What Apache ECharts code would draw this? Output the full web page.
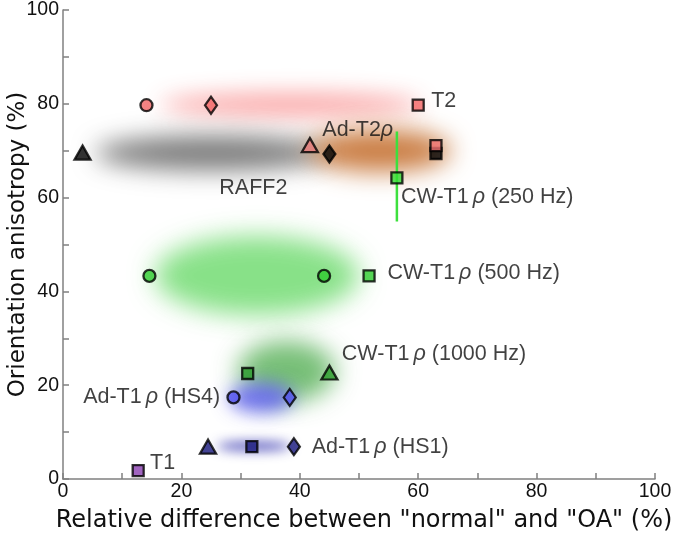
<!DOCTYPE html>
<html>
<head>
<meta charset="utf-8">
<script src="https://cdn.jsdelivr.net/npm/echarts@6/dist/echarts.min.js"></script>
<style>html,body{margin:0;padding:0;background:#fff}#c{width:675px;height:542px}</style>
</head>
<body>
<div id="c"></div>
<script>
// ---------- DATA ----------
// marker points [x, y] per method (x: relative difference %, y: orientation anisotropy %)
const T2_PTS      = [[14.1, 79.7], [25.0, 79.7], [60.0, 79.7]];
const T2_EXTRA    = [[63.0, 71.1]];
const ADT2_PTS    = [[41.7, 71.2]];
const RAFF2_PTS   = [[3.3, 69.6], [45.0, 69.3], [63.0, 69.4]];
const CW250_PTS   = [[56.4, 64.2]];
const CW250_RANGE = [[56.4, 54.9], [56.4, 74.1]];
const CW500_PTS   = [[14.6, 43.3], [44.1, 43.3], [51.7, 43.3]];
const CW1000_PTS  = [[31.2, 22.5], [45.0, 22.7]];
const HS4_PTS     = [[28.8, 17.4], [38.3, 17.4]];
const HS1_PTS     = [[24.5, 6.9], [31.9, 6.9], [39.0, 6.9]];
const T1_PTS      = [[12.7, 1.8]];
// shaded regions [xMin, xMax, yMin, yMax] in data units
const REGIONS = [
  [16.5, 60.5, 77.3, 82.3], // T2 (pink)
  [5.5, 45, 65.8, 73.2],    // RAFF2 (gray)
  [41.5, 65.5, 65.5, 74.5], // Ad-T2rho (orange)
  [15.5, 50, 35.0, 51.8],   // CW 500 Hz (green)
  [29.5, 46, 16.5, 29.5],   // CW 1000 Hz (green)
  [28, 39, 14.2, 20.6],     // HS4 (blue)
  [26, 38.5, 6.0, 8.0]      // HS1 (navy)
];
// annotation labels [x, y, text]
const LABELS = [
  [62.2, 80.5, '{a|T2}'],
  [43.8, 74.4, '{a|Ad-T2}{r|ρ}'],
  [26.4, 62.0, '{a|RAFF2}'],
  [57.1, 60.2, '{a|CW-T1}{s|ρ}{a| (250 Hz)}'],
  [54.8, 44.0, '{a|CW-T1}{s|ρ}{a| (500 Hz)}'],
  [47.1, 26.6, '{a|CW-T1}{s|ρ}{a| (1000 Hz)}'],
  [3.4, 17.5, '{a|Ad-T1}{s|ρ}{a| (HS4)}'],
  [42.0, 6.9, '{a|Ad-T1}{s|ρ}{a| (HS1)}'],
  [14.7, 3.5, '{a|T1}']
];
const X_TICKS = [0, 20, 40, 60, 80, 100];
const Y_TICKS = [0, 20, 40, 60, 80, 100];

// ---------- STYLE ----------
const REGION_COLORS = [
  'rgba(250,160,160,0.9)',
  'rgba(110,110,110,0.9)',
  'rgba(200,120,60,0.95)',
  'rgba(115,220,115,0.85)',
  'rgba(95,180,95,0.85)',
  'rgba(95,95,240,0.85)',
  'rgba(75,75,185,0.9)'
];
const REGION_BLUR = [22, 24, 24, 26, 24, 18, 12];
const SYM = {
  circle: {symbol: 'circle', size: 12},
  diamond: {symbol: 'diamond', size: [12, 17]},
  square: {symbol: 'rect', size: 11},
  triangle: {symbol: 'triangle', size: [16, 14]}
};
function pts(data, shapes, color) {
  return data.map(function (d, i) {
    const s = SYM[shapes[i]];
    return {value: d, symbol: s.symbol, symbolSize: s.size,
      itemStyle: {color: color, borderColor: '#000', borderWidth: 2.3}};
  });
}
function scatter(data, z) {
  return {type: 'scatter', data: data, z: z || 5, silent: true, animation: false};
}

const chart = echarts.init(document.getElementById('c'), null, {renderer: 'canvas'});
const axisCommon = {
  type: 'value', min: 0, max: 100, interval: 10,
  axisLine: {show: true, lineStyle: {color: '#808080', width: 1.5}},
  axisTick: {show: true, inside: true, length: 6, lineStyle: {color: '#808080', width: 1.5}},
  splitLine: {show: false},
  nameLocation: 'middle',
  nameMoveOverlap: false
};
const labelStyle = {fontFamily: 'Liberation Sans', fontSize: 19.5, color: '#111'};
chart.setOption({
  animation: false,
  grid: {left: 63, right: 20, top: 10, bottom: 63, containLabel: false, outerBoundsMode: 'none'},
  xAxis: Object.assign({}, axisCommon, {
    name: 'Relative difference between "normal" and "OA" (%)', nameGap: 30,
    nameTextStyle: {fontFamily: 'DejaVu Sans', fontSize: 24, color: '#111', padding: [0, 0, 0, 10]},
    axisLabel: Object.assign({}, labelStyle, {margin: 3,
      formatter: function (v) { return X_TICKS.indexOf(v) >= 0 ? String(v) : ''; }})
  }),
  yAxis: Object.assign({}, axisCommon, {
    name: 'Orientation anisotropy (%)', nameGap: 33,
    nameTextStyle: {fontFamily: 'DejaVu Sans', fontSize: 23, color: '#111'},
    axisLabel: Object.assign({}, labelStyle, {margin: 4,
      formatter: function (v) { return Y_TICKS.indexOf(v) >= 0 ? String(v) : ''; }})
  }),
  series: [
    {
      type: 'custom', silent: true, z: 1, animation: false,
      data: REGIONS,
      encode: {x: [0, 1], y: [2, 3]},
      renderItem: function (params, api) {
        const r = REGIONS[params.dataIndex];
        const p0 = api.coord([r[0], r[2]]), p1 = api.coord([r[1], r[3]]);
        const cx = (p0[0] + p1[0]) / 2, cy = (p0[1] + p1[1]) / 2;
        const rx = Math.abs(p1[0] - p0[0]) / 2, ry = Math.abs(p1[1] - p0[1]) / 2;
        const OFF = 4000;
        return {
          type: 'ellipse',
          shape: {cx: cx - OFF, cy: cy, rx: rx, ry: ry},
          style: {fill: '#000', shadowBlur: REGION_BLUR[params.dataIndex],
            shadowColor: REGION_COLORS[params.dataIndex], shadowOffsetX: OFF, shadowOffsetY: 0}
        };
      }
    },
    {
      type: 'line', data: CW250_RANGE, symbol: 'none', silent: true, z: 3, animation: false,
      lineStyle: {color: '#3de03d', width: 2.5}
    },
    scatter(pts(RAFF2_PTS, ['triangle', 'diamond', 'square'], '#000'), 5),
    scatter(pts(T2_PTS, ['circle', 'diamond', 'square'], '#f26464'), 6),
    scatter(pts(T2_EXTRA, ['square'], '#f07070'), 7),
    scatter(pts(ADT2_PTS, ['triangle'], '#e87a7a'), 6),
    scatter(pts(CW250_PTS, ['square'], '#33dd33'), 6),
    scatter(pts(CW500_PTS, ['circle', 'circle', 'square'], '#2ecc2e'), 6),
    scatter(pts(CW1000_PTS, ['square', 'triangle'], '#279a27'), 6),
    scatter(pts(HS4_PTS, ['circle', 'diamond'], '#5050ee'), 6),
    scatter(pts(HS1_PTS, ['triangle', 'square', 'diamond'], '#15157a'), 6),
    scatter(pts(T1_PTS, ['square'], '#8a3fb0'), 6),
    {
      type: 'scatter', silent: true, z: 8, animation: false, symbolSize: 0,
      data: LABELS.map(function (l) { return {value: [l[0], l[1]], lab: l[2]}; }),
      label: {
        show: true, position: 'inside', align: 'left', verticalAlign: 'middle',
        formatter: function (p) { return p.data.lab; },
        rich: {
          a: {fontFamily: 'Liberation Sans', fontSize: 21.5, color: '#111'},
          r: {fontFamily: 'Liberation Sans', fontStyle: 'italic', fontSize: 21.5, color: '#111'},
          s: {fontFamily: 'Liberation Sans', fontStyle: 'italic', fontSize: 21.5, color: '#111', padding: [0, 0, 0, 4]}
        }
      }
    }
  ]
});
</script>
</body>
</html>
